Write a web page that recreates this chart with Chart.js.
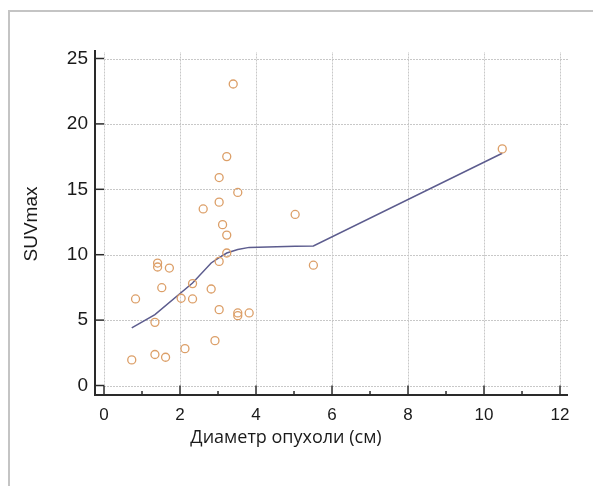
<!DOCTYPE html>
<html>
<head>
<meta charset="utf-8">
<script src="https://cdn.jsdelivr.net/npm/chart.js@4.4.0/dist/chart.umd.min.js"></script>
<style>
  html, body { margin: 0; padding: 0; background: #ffffff; }
  #wrap { position: relative; width: 593px; height: 486px; overflow: hidden; }
  #frame { position: absolute; left: 8px; top: 10px; width: 700px; height: 600px;
           border-left: 2px solid #c4c4c4; border-top: 2px solid #c4c4c4; }
  #c { position: absolute; left: 0; top: 0; }
  #xtitle { position: absolute; left: 176px; width: 220px; top: 425px; text-align: center;
            font-family: "Open Sans", sans-serif; font-size: 18px; line-height: 22px; color: #1a1a1a; white-space: nowrap; }
  #ytitle { position: absolute; left: -19px; top: 213px; width: 100px; text-align: center;
            transform: rotate(-90deg); font-family: "Liberation Sans", Arial, sans-serif; font-size: 19px;
            line-height: 22px; color: #1a1a1a; white-space: nowrap; }
</style>
</head>
<body>
<div id="wrap">
  <div id="frame"></div>
  <canvas id="c" width="593" height="486"></canvas>
  <div id="xtitle">Диаметр опухоли (см)</div>
  <div id="ytitle">SUVmax</div>
</div>
<script>
// Tumour diameter (cm) and SUVmax for each patient
const diameterCm = [3.40, 3.23, 3.03, 3.52, 3.03, 2.61, 5.03, 3.12, 3.23, 3.23, 3.03, 1.41, 1.41, 1.72, 5.51, 1.52,
                    2.33, 2.82, 0.83, 2.03, 2.33, 3.03, 3.52, 3.52, 3.82, 1.34, 2.92, 2.13, 1.34, 1.62, 0.73, 10.48];
const suvMax     = [23.05, 17.5, 15.9, 14.76, 14.02, 13.5, 13.08, 12.3, 11.5, 10.13, 9.49, 9.36, 9.06, 8.98, 9.2, 7.48,
                    7.79, 7.38, 6.62, 6.67, 6.62, 5.8, 5.55, 5.34, 5.55, 4.83, 3.43, 2.82, 2.37, 2.16, 1.96, 18.09];
// Smoothed trend line
const trendX = [0.73, 1.34, 2.33, 2.82, 3.03, 3.23, 3.52, 3.82, 5.03, 5.51, 10.48];
const trendY = [4.40, 5.42, 7.84, 9.37, 9.78, 10.13, 10.40, 10.56, 10.64, 10.67, 17.76];
// Axis ticks
const xTicks = [0, 2, 4, 6, 8, 10, 12];
const xMinorTicks = [1, 3, 5, 7, 9, 11];
const yTicks = [0, 5, 10, 15, 20, 25];

const points = diameterCm.map((d, i) => ({ x: d, y: suvMax[i] }));
const trend = trendX.map((d, i) => ({ x: d, y: trendY[i] }));

const axisDeco = {
  id: 'axisDeco',
  beforeDatasetsDraw(chart) {
    const { ctx, chartArea: a, scales: { x, y } } = chart;
    const x0 = x.getPixelForValue(0), y0 = y.getPixelForValue(0);
    const line = (x1, y1, x2, y2) => { ctx.beginPath(); ctx.moveTo(x1, y1); ctx.lineTo(x2, y2); ctx.stroke(); };
    ctx.save();
    // dotted grid
    ctx.strokeStyle = '#c8c8c8'; ctx.lineWidth = 1; ctx.setLineDash([2, 1]);
    xTicks.forEach(v => { const p = Math.round(x.getPixelForValue(v)) + 0.5; line(p, y0, p, a.top + 2); });
    yTicks.forEach(v => { const p = Math.round(y.getPixelForValue(v)) + 0.5; line(x0, p, a.right, p); });
    ctx.setLineDash([]);
    // axis lines
    ctx.strokeStyle = '#2a2a2a'; ctx.lineWidth = 2;
    line(a.left, a.bottom, a.left, a.top);
    line(a.left - 1, a.bottom, a.right, a.bottom);
    // inward tick marks
    ctx.lineWidth = 1.5;
    yTicks.forEach(v => { const p = y.getPixelForValue(v); line(a.left, p, x0, p); });
    xTicks.forEach(v => { const p = x.getPixelForValue(v); line(p, a.bottom, p, y0); });
    xMinorTicks.forEach(v => { const p = x.getPixelForValue(v); line(p, a.bottom, p, a.bottom - 4); });
    ctx.restore();
  }
};

new Chart(document.getElementById('c'), {
  type: 'scatter',
  data: {
    datasets: [
      {
        label: 'SUVmax',
        data: points,
        showLine: false,
        pointRadius: 4,
        pointBorderWidth: 1.3,
        borderColor: '#dc9f68',
        backgroundColor: 'rgba(255,255,255,0)',
        pointBackgroundColor: 'rgba(255,255,255,0)',
        pointBorderColor: '#dc9f68'
      },
      {
        label: 'trend',
        data: trend,
        showLine: true,
        pointRadius: 0,
        borderColor: '#5c5c8e',
        borderWidth: 1.5,
        fill: false,
        tension: 0
      }
    ]
  },
  options: {
    responsive: false,
    animation: false,
    events: [],
    layout: { padding: { left: 0, right: 25, top: 50, bottom: 0 } },
    plugins: { legend: { display: false }, tooltip: { enabled: false } },
    scales: {
      x: {
        type: 'linear',
        min: -0.237,
        max: 12.21,
        afterBuildTicks: s => { s.ticks = xTicks.map(v => ({ value: v })); },
        afterFit: s => { s.height = 91; },
        grid: { display: false, drawTicks: false },
        border: { display: false },
        ticks: { padding: 10, color: '#1a1a1a', font: { family: '"Liberation Sans", Arial, sans-serif', size: 17 }, maxRotation: 0 }
      },
      y: {
        type: 'linear',
        min: -0.725,
        max: 25.65,
        afterBuildTicks: s => { s.ticks = yTicks.map(v => ({ value: v })); },
        afterFit: s => { s.width = 95; },
        grid: { display: false, drawTicks: false },
        border: { display: false },
        ticks: { padding: 7, color: '#1a1a1a', font: { family: '"Liberation Sans", Arial, sans-serif', size: 19 } }
      }
    }
  },
  plugins: [axisDeco]
});
</script>
</body>
</html>
